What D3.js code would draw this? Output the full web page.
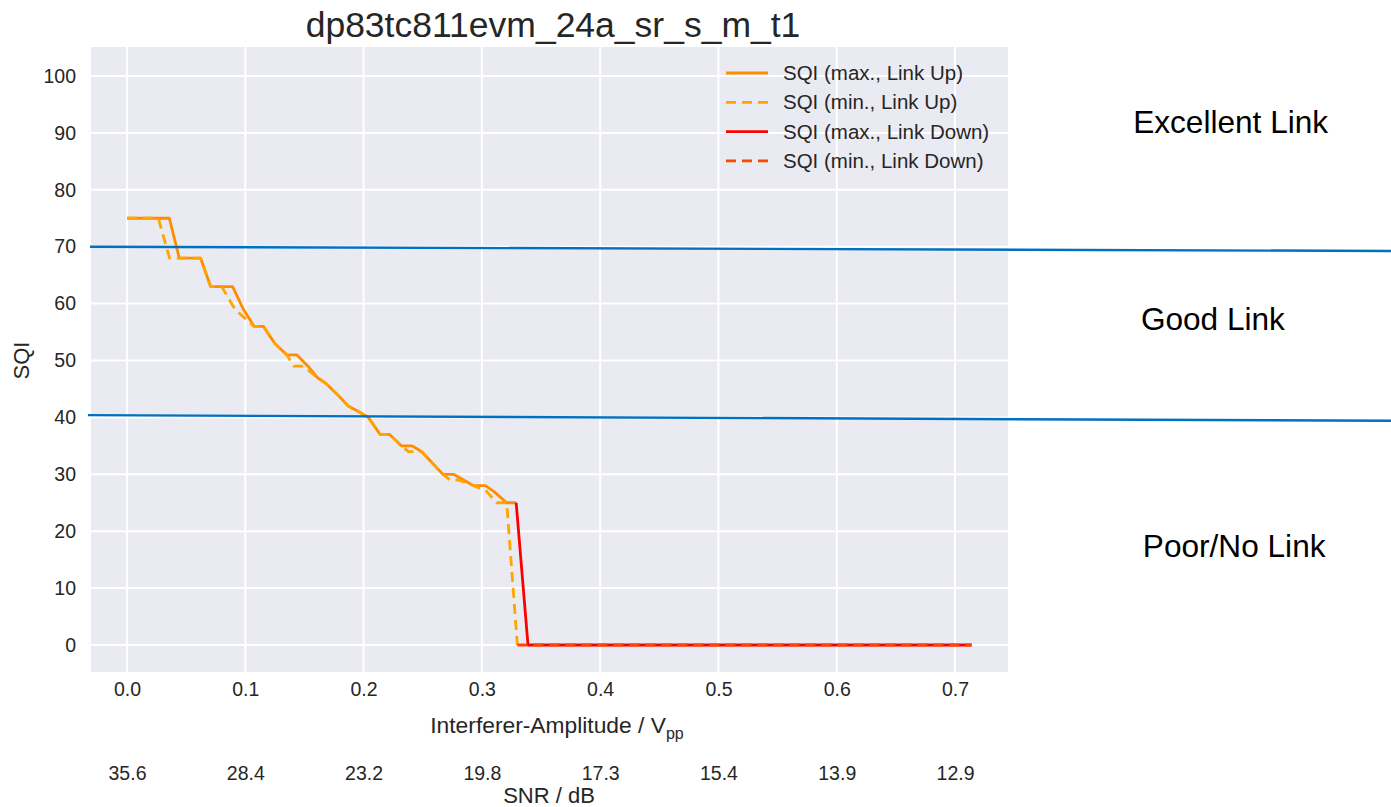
<!DOCTYPE html>
<html>
<head>
<meta charset="utf-8">
<script src="https://cdn.jsdelivr.net/npm/d3@7"></script>
<style>
  body { margin: 0; background: #fff; }
  svg { display: block; font-family: "Liberation Sans", Arial, sans-serif; }
</style>
</head>
<body>
<svg width="1391" height="807"></svg>
<script>
// interferer amplitude (Vpp) / SQI pairs
const maxLinkUp = [
  [0.0, 75], [0.0358, 75], [0.0442, 68], [0.0622, 68], [0.0707, 63], [0.0893, 63],
  [0.0984, 59], [0.1074, 56], [0.1153, 56], [0.125, 53], [0.135, 51], [0.1435, 51],
  [0.153, 49], [0.161, 47], [0.168, 46], [0.178, 44], [0.187, 42], [0.196, 41],
  [0.204, 40], [0.214, 37], [0.222, 37], [0.232, 35], [0.241, 35], [0.249, 34],
  [0.267, 30], [0.276, 30], [0.293, 28], [0.303, 28], [0.310, 27], [0.321, 25],
  [0.329, 25]
];
const minLinkUp = [
  [0.0, 75], [0.0265, 75], [0.036, 68], [0.0622, 68], [0.0707, 63], [0.080, 63],
  [0.0913, 59], [0.1074, 56], [0.1153, 56], [0.125, 53], [0.135, 51], [0.141, 49],
  [0.149, 49], [0.161, 47], [0.168, 46], [0.178, 44], [0.187, 42], [0.196, 41],
  [0.204, 40], [0.214, 37], [0.222, 37], [0.232, 35], [0.238, 34], [0.249, 34],
  [0.267, 30], [0.273, 29], [0.28, 29], [0.293, 28], [0.304, 27], [0.3125, 25],
  [0.321, 25], [0.33, 0]
];
const maxLinkDown = [[0.329, 25], [0.339, 0], [0.714, 0]];
const minLinkDown = [[0.33, 0], [0.714, 0]];

const xTicks = [0.0, 0.1, 0.2, 0.3, 0.4, 0.5, 0.6, 0.7];
const snrLabels = ['35.6', '28.4', '23.2', '19.8', '17.3', '15.4', '13.9', '12.9'];
const yTicks = [0, 10, 20, 30, 40, 50, 60, 70, 80, 90, 100];

// hand drawn threshold lines [x0, sqi0, x1, sqi1]
const thresholds = [[-0.0313, 70, 1.0686, 69.25], [-0.033, 40.4, 1.0686, 39.4]];
const zones = [['Excellent Link', 0.933, 91.9], ['Good Link', 0.918, 57.3], ['Poor/No Link', 0.936, 17.4]];

const series = [
  { name: 'SQI (max., Link Up)', data: maxLinkUp, color: '#ff8c00', dash: null },
  { name: 'SQI (min., Link Up)', data: minLinkUp, color: '#ffa500', dash: '10,6' },
  { name: 'SQI (max., Link Down)', data: maxLinkDown, color: '#ff0000', dash: null },
  { name: 'SQI (min., Link Down)', data: minLinkDown, color: '#ff4500', dash: '10,6' }
];

const plot = { left: 91, right: 1008, top: 47, bottom: 672 };
const svg = d3.select('svg');

const x = d3.scaleLinear().domain([-0.03043, 0.74478]).range([plot.left, plot.right]);
const y = d3.scaleLinear().domain([-4.745, 105.097]).range([plot.bottom, plot.top]);

svg.append('rect')
  .attr('x', plot.left).attr('y', plot.top)
  .attr('width', plot.right - plot.left).attr('height', plot.bottom - plot.top)
  .attr('fill', '#eaeaf2');

// grid
const grid = svg.append('g').attr('stroke', '#fff').attr('stroke-width', 2);
grid.selectAll('.gx').data(xTicks).enter().append('line')
  .attr('x1', d => x(d)).attr('x2', d => x(d))
  .attr('y1', plot.top).attr('y2', plot.bottom);
grid.selectAll('.gy').data(yTicks).enter().append('line')
  .attr('y1', d => y(d)).attr('y2', d => y(d))
  .attr('x1', plot.left).attr('x2', plot.right);

// axes (no ticks, seaborn style)
const xAxis = svg.append('g')
  .attr('transform', `translate(0,${plot.bottom})`)
  .call(d3.axisBottom(x).tickValues(xTicks).tickFormat(d3.format('.1f')).tickSize(0).tickPadding(10));
const snrAxis = svg.append('g')
  .attr('transform', `translate(0,${plot.bottom + 84})`)
  .call(d3.axisBottom(x).tickValues(xTicks).tickFormat((d, i) => snrLabels[i]).tickSize(0).tickPadding(10));
const yAxis = svg.append('g')
  .attr('transform', `translate(${plot.left},0)`)
  .call(d3.axisLeft(y).tickValues(yTicks).tickSize(0).tickPadding(15));

[xAxis, snrAxis, yAxis].forEach(a => {
  a.select('.domain').remove();
  a.selectAll('text').attr('fill', '#262626').style('font-size', '19.5px').style('font-family', '"Liberation Sans", Arial, sans-serif');
});

// series
const line = d3.line().x(d => x(d[0])).y(d => y(d[1]));
svg.append('g').selectAll('path')
  .data(series).enter().append('path')
  .attr('d', d => line(d.data))
  .attr('fill', 'none')
  .attr('stroke', d => d.color)
  .attr('stroke-width', 2.8)
  .attr('stroke-dasharray', d => d.dash)
  .attr('stroke-linejoin', 'round');

// legend
const legend = svg.append('g').attr('transform', 'translate(726,73)');
const item = legend.selectAll('g').data(series).enter().append('g')
  .attr('transform', (d, i) => `translate(0,${i * 29.3})`);
item.append('line')
  .attr('x1', 0).attr('x2', 42)
  .attr('stroke', d => d.color).attr('stroke-width', 2.8)
  .attr('stroke-dasharray', d => d.dash);
item.append('text')
  .attr('x', 57).attr('dy', '0.35em')
  .attr('fill', '#262626').style('font-size', '20.5px')
  .text(d => d.name);

// titles
svg.append('text')
  .attr('x', 553).attr('y', 37)
  .attr('text-anchor', 'middle').attr('fill', '#262626')
  .style('font-size', '35.5px')
  .text('dp83tc811evm_24a_sr_s_m_t1');

const xl = svg.append('text')
  .attr('x', 557).attr('y', 733)
  .attr('text-anchor', 'middle').attr('fill', '#262626')
  .style('font-size', '22.8px');
xl.append('tspan').text('Interferer-Amplitude / V');
xl.append('tspan').attr('dy', 6).style('font-size', '16px').text('pp');

svg.append('text')
  .attr('x', 549).attr('y', 803)
  .attr('text-anchor', 'middle').attr('fill', '#262626')
  .style('font-size', '22px')
  .text('SNR / dB');

svg.append('text')
  .attr('transform', `translate(29,${y(50)}) rotate(-90)`)
  .attr('text-anchor', 'middle').attr('fill', '#262626')
  .style('font-size', '22px')
  .text('SQI');

// threshold lines and zone labels
svg.append('g').selectAll('line')
  .data(thresholds).enter().append('line')
  .attr('x1', d => x(d[0])).attr('y1', d => y(d[1]))
  .attr('x2', d => x(d[2])).attr('y2', d => y(d[3]))
  .attr('stroke', '#0070c0').attr('stroke-width', 2.4);

svg.append('g').selectAll('text')
  .data(zones).enter().append('text')
  .attr('x', d => x(d[1])).attr('y', d => y(d[2]))
  .attr('dy', '0.35em')
  .attr('text-anchor', 'middle').attr('fill', '#000')
  .style('font-size', '31.6px')
  .text(d => d[0]);
</script>
</body>
</html>
